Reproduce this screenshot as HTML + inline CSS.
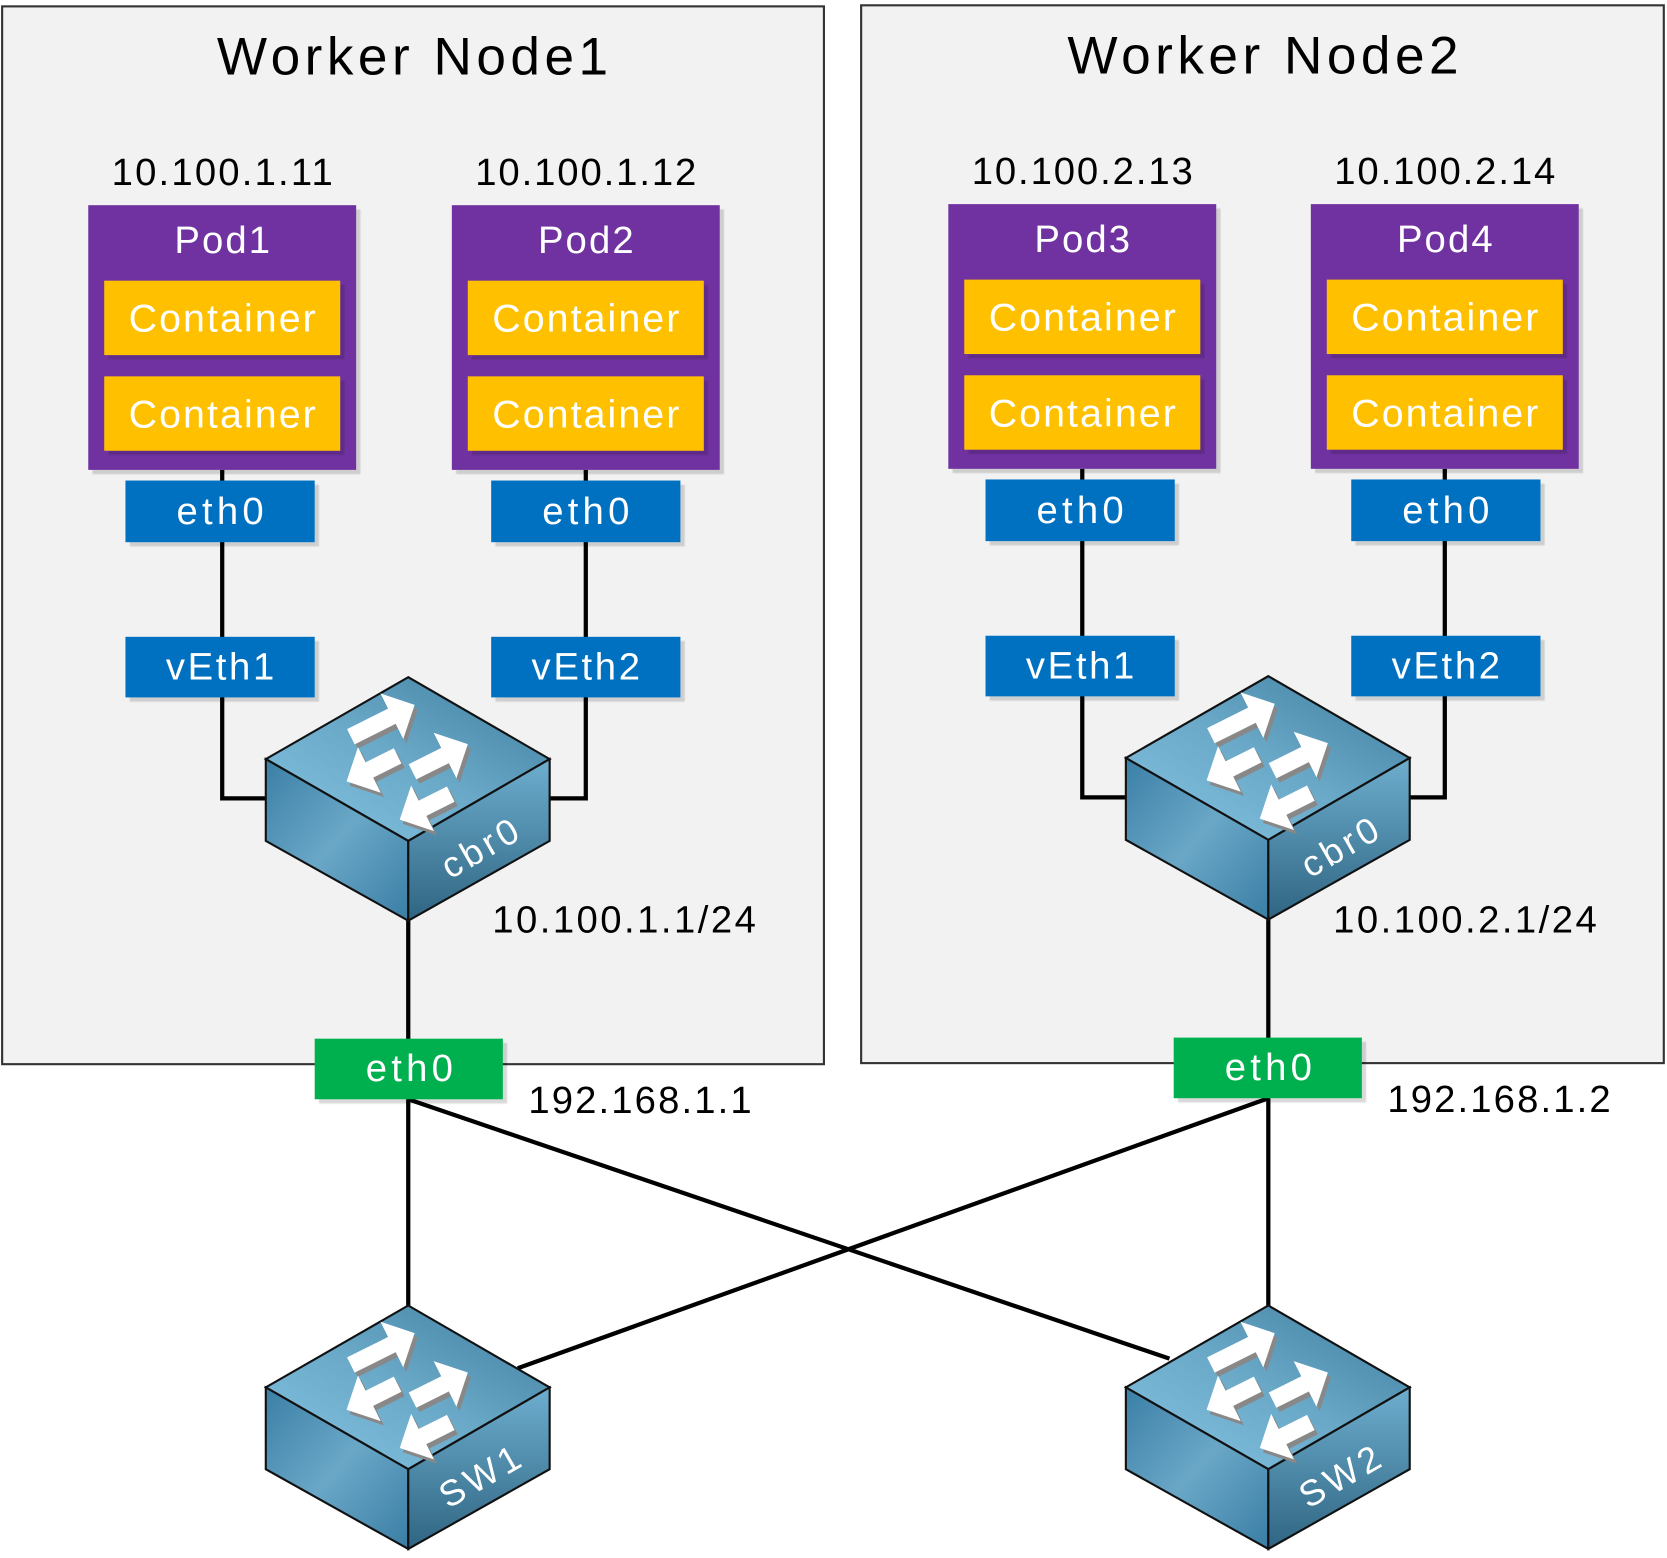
<!DOCTYPE html>
<html><head><meta charset="utf-8"><style>html,body{margin:0;padding:0;background:#fff}svg{display:block}</style></head>
<body>
<svg width="1667" height="1558" viewBox="0 0 1568 1465.5" xmlns="http://www.w3.org/2000/svg" font-family="Liberation Sans, sans-serif">
<defs>
<linearGradient id="gt" x1="0" y1="1" x2="1" y2="0"><stop offset="0" stop-color="#86c4e3"/><stop offset="0.5" stop-color="#6aa8c8"/><stop offset="1" stop-color="#3d7c9c"/></linearGradient>
<linearGradient id="gl" x1="0" y1="0" x2="1" y2="1"><stop offset="0" stop-color="#3b7fa6"/><stop offset="0.5" stop-color="#6aa7c7"/><stop offset="1" stop-color="#3a7ea5"/></linearGradient>
<linearGradient id="gr" x1="0" y1="0" x2="0" y2="1"><stop offset="0" stop-color="#6eaecf"/><stop offset="1" stop-color="#2f6582"/></linearGradient>
<marker id="ah" markerWidth="3" markerHeight="3" refX="0.8" refY="1.5" orient="auto" markerUnits="strokeWidth"><path d="M0,0 L1.5,1.5 L0,3 Z" fill="#fff"/></marker>
<marker id="ahs" markerWidth="3" markerHeight="3" refX="0.8" refY="1.5" orient="auto" markerUnits="strokeWidth"><path d="M0,0 L1.5,1.5 L0,3 Z" fill="#888"/></marker>
<g id="sw">
<polygon points="0,0 133,77 0,154 -134,77" fill="url(#gt)" stroke="#111" stroke-width="2"/>
<polygon points="-134,77 0,154 0,229 -134,154" fill="url(#gl)" stroke="#111" stroke-width="2"/>
<polygon points="0,154 133,77 133,154 0,229" fill="url(#gr)" stroke="#111" stroke-width="2"/>
<g stroke="#888" stroke-width="16" marker-end="url(#ahs)" transform="translate(3,4)">
<line x1="-54" y1="56" x2="-4" y2="31"/><line x1="-10" y1="74" x2="-48" y2="93"/><line x1="4" y1="89" x2="46" y2="68"/><line x1="40" y1="110" x2="2" y2="129"/>
</g>
<g stroke="#fff" stroke-width="16" marker-end="url(#ah)">
<line x1="-54" y1="56" x2="-4" y2="31"/><line x1="-10" y1="74" x2="-48" y2="93"/><line x1="4" y1="89" x2="46" y2="68"/><line x1="40" y1="110" x2="2" y2="129"/>
</g>
</g>
<filter id="sh" x="-5%" y="-5%" width="115%" height="120%"><feDropShadow dx="4" dy="4" stdDeviation="0.5" flood-color="#000" flood-opacity="0.15"/></filter>
</defs>

<rect x="2" y="6" width="773" height="995" fill="#f2f2f2" stroke="#333" stroke-width="2"/>
<rect x="810" y="5" width="755" height="995" fill="#f2f2f2" stroke="#333" stroke-width="2"/>
<text x="388" y="70" font-size="50" text-anchor="middle" textLength="368">Worker Node1</text>
<text x="1188" y="69" font-size="50" text-anchor="middle" textLength="368">Worker Node2</text>

<g stroke="#000" stroke-width="4" fill="none">
<polyline points="209,442 209,751 252,751"/>
<polyline points="551,442 551,751 515,751"/>
<polyline points="1018,441 1018,750 1061,750"/>
<polyline points="1359,441 1359,750 1324,750"/>
<line x1="384" y1="866" x2="384" y2="1034"/>
<line x1="1193" y1="865" x2="1193" y2="1033"/>
<line x1="384" y1="1034" x2="384" y2="1230"/>
<line x1="1193" y1="1033" x2="1193" y2="1230"/>
<line x1="384" y1="1034" x2="1100" y2="1278"/>
<line x1="1193" y1="1033" x2="487" y2="1287"/>
</g>

<g font-size="36" text-anchor="middle">
<text x="209" y="174" textLength="208">10.100.1.11</text>
<text x="551" y="174" textLength="208">10.100.1.12</text>
<text x="1018" y="173" textLength="208">10.100.2.13</text>
<text x="1359" y="173" textLength="208">10.100.2.14</text>
</g>
<g font-size="36">
<text x="463" y="877" textLength="248">10.100.1.1/24</text>
<text x="1254" y="877" textLength="248">10.100.2.1/24</text>
<text x="497" y="1047" textLength="210">192.168.1.1</text>
<text x="1305" y="1046" textLength="210">192.168.1.2</text>
</g>

<g font-size="37" fill="#fff" text-anchor="middle">
<rect x="83" y="193" width="252" height="249" fill="#7030a0" filter="url(#sh)"/>
<text x="209" y="238" font-size="36" textLength="90">Pod1</text>
<rect x="98" y="264" width="222" height="70" fill="#ffc000" filter="url(#sh)"/>
<text x="209" y="312" textLength="176">Container</text>
<rect x="98" y="354" width="222" height="70" fill="#ffc000" filter="url(#sh)"/>
<text x="209" y="402" textLength="176">Container</text>
<rect x="425" y="193" width="252" height="249" fill="#7030a0" filter="url(#sh)"/>
<text x="551" y="238" font-size="36" textLength="90">Pod2</text>
<rect x="440" y="264" width="222" height="70" fill="#ffc000" filter="url(#sh)"/>
<text x="551" y="312" textLength="176">Container</text>
<rect x="440" y="354" width="222" height="70" fill="#ffc000" filter="url(#sh)"/>
<text x="551" y="402" textLength="176">Container</text>
<rect x="892" y="192" width="252" height="249" fill="#7030a0" filter="url(#sh)"/>
<text x="1018" y="237" font-size="36" textLength="90">Pod3</text>
<rect x="907" y="263" width="222" height="70" fill="#ffc000" filter="url(#sh)"/>
<text x="1018" y="311" textLength="176">Container</text>
<rect x="907" y="353" width="222" height="70" fill="#ffc000" filter="url(#sh)"/>
<text x="1018" y="401" textLength="176">Container</text>
<rect x="1233" y="192" width="252" height="249" fill="#7030a0" filter="url(#sh)"/>
<text x="1359" y="237" font-size="36" textLength="90">Pod4</text>
<rect x="1248" y="263" width="222" height="70" fill="#ffc000" filter="url(#sh)"/>
<text x="1359" y="311" textLength="176">Container</text>
<rect x="1248" y="353" width="222" height="70" fill="#ffc000" filter="url(#sh)"/>
<text x="1359" y="401" textLength="176">Container</text>

<rect x="118" y="452" width="178" height="58" fill="#0070c0" filter="url(#sh)"/><text x="207" y="493" font-size="36" textLength="82">eth0</text>
<rect x="462" y="452" width="178" height="58" fill="#0070c0" filter="url(#sh)"/><text x="551" y="493" font-size="36" textLength="82">eth0</text>
<rect x="927" y="451" width="178" height="58" fill="#0070c0" filter="url(#sh)"/><text x="1016" y="492" font-size="36" textLength="82">eth0</text>
<rect x="1271" y="451" width="178" height="58" fill="#0070c0" filter="url(#sh)"/><text x="1360" y="492" font-size="36" textLength="82">eth0</text>
<rect x="118" y="599" width="178" height="57" fill="#0070c0" filter="url(#sh)"/><text x="207" y="639" font-size="36" textLength="102">vEth1</text>
<rect x="462" y="599" width="178" height="57" fill="#0070c0" filter="url(#sh)"/><text x="551" y="639" font-size="36" textLength="102">vEth2</text>
<rect x="927" y="598" width="178" height="57" fill="#0070c0" filter="url(#sh)"/><text x="1016" y="638" font-size="36" textLength="102">vEth1</text>
<rect x="1271" y="598" width="178" height="57" fill="#0070c0" filter="url(#sh)"/><text x="1360" y="638" font-size="36" textLength="102">vEth2</text>
<rect x="296" y="977" width="177" height="57" fill="#00b050" filter="url(#sh)"/><text x="385" y="1017" font-size="36" textLength="82">eth0</text>
<rect x="1104" y="976" width="177" height="57" fill="#00b050" filter="url(#sh)"/><text x="1193" y="1016" font-size="36" textLength="82">eth0</text>
</g>

<use href="#sw" x="384" y="637"/>
<use href="#sw" x="1193" y="636"/>
<use href="#sw" x="384" y="1228"/>
<use href="#sw" x="1193" y="1228"/>
<g fill="#fff" font-size="34" text-anchor="middle">
<text transform="translate(457,808) rotate(-30)" textLength="78">cbr0</text>
<text transform="translate(1266,807) rotate(-30)" textLength="78">cbr0</text>
<text transform="translate(457,1399) rotate(-30)" textLength="82">SW1</text>
<text transform="translate(1266,1399) rotate(-30)" textLength="82">SW2</text>
</g>
</svg>
</body></html>
